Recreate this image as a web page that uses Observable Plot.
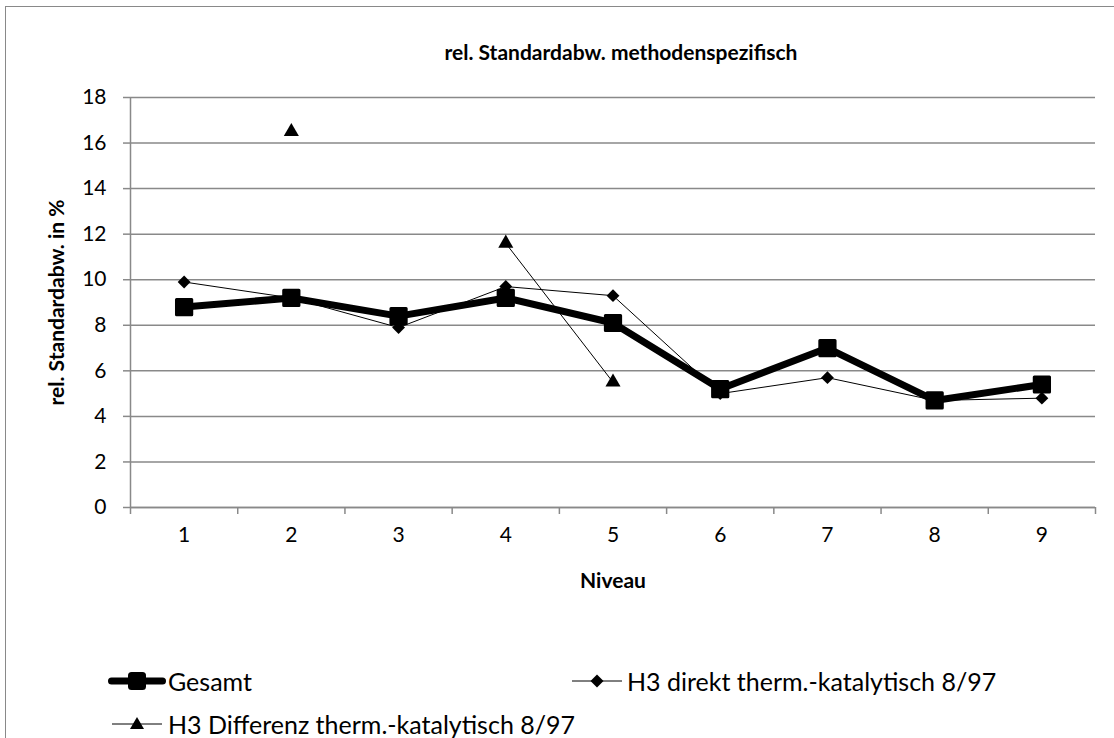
<!DOCTYPE html>
<html>
<head>
<meta charset="utf-8">
<script src="https://cdn.jsdelivr.net/npm/d3@7"></script>
<script src="https://cdn.jsdelivr.net/npm/@observablehq/plot@0.6"></script>
<style>
  html, body { margin: 0; padding: 0; background: #fff; overflow: hidden; }
  body { width: 1114px; height: 738px; position: relative; font-family: Lato, "Open Sans", sans-serif; color: #000; }
  #frame { position: absolute; left: 5px; top: 6px; width: 1200px; height: 800px; border: 1.5px solid #898989; box-sizing: border-box; }
  #title { position: absolute; left: 0; width: 1242px; top: 38px; line-height: 28px; text-align: center; font-weight: bold; font-size: 21px; }
  #chart { position: absolute; left: 0; top: 70px; }
  .sw { position: absolute; display: block; }
  .lt { position: absolute; font-size: 25px; line-height: 30px; white-space: nowrap; }
</style>
</head>
<body>
<div id="frame"></div>
<div id="title">rel. Standardabw. methodenspezifisch</div>
<div id="chart"></div>
<div id="legend"></div>
<script>
const niveaus = [1, 2, 3, 4, 5, 6, 7, 8, 9];
const gesamt = [8.8, 9.2, 8.4, 9.2, 8.1, 5.2, 7.0, 4.7, 5.4];
const direkt = [9.9, 9.2, 7.9, 9.7, 9.3, 5.0, 5.7, 4.7, 4.8];
const differenz = [null, 16.5, null, 11.6, 5.5, null, null, null, null];
const yTicks = [0, 2, 4, 6, 8, 10, 12, 14, 16, 18];
const seriesNames = ["Gesamt", "H3 direkt therm.-katalytisch 8/97", "H3 Differenz therm.-katalytisch 8/97"];

const toRows = vals => niveaus.map((n, i) => ({x: n, y: vals[i] == null ? NaN : vals[i]}));
const rowsG = toRows(gesamt);
const rowsD = toRows(direkt);
const rowsF = toRows(differenz);
const boundaries = [niveaus[0] - 0.5, ...niveaus.map(n => n + 0.5)];
const grid = "#898989";

const plot = Plot.plot({
  width: 1114,
  height: 540,
  marginLeft: 130,
  marginRight: 19,
  marginTop: 27,
  marginBottom: 103,
  style: {fontFamily: "Lato, 'Open Sans', sans-serif", fontSize: "21px", color: "#000", background: "transparent"},
  x: {type: "linear", domain: [0.5, 9.5]},
  y: {domain: [0, 18]},
  marks: [
    Plot.gridY(yTicks, {stroke: grid, strokeOpacity: 1, strokeWidth: 1.5}),
    Plot.ruleX([boundaries[0]], {stroke: grid, strokeWidth: 1.5}),
    Plot.ruleY([0], {stroke: grid, strokeWidth: 1.5}),
    Plot.axisY(yTicks, {tickSize: 7, tickPadding: 17, stroke: grid, strokeWidth: 1.5, fill: "#000", label: null, fontSize: 21}),
    Plot.axisX(boundaries, {tickSize: 7, tickFormat: () => "", stroke: grid, strokeWidth: 1.5, label: null}),
    Plot.axisX(niveaus, {tickSize: 0, tickPadding: 20, fill: "#000", label: null, fontSize: 21}),
    Plot.text(["Niveau"], {frameAnchor: "bottom", dy: 80, fontWeight: "bold", fontSize: 21, fill: "#000"}),
    Plot.text(["rel. Standardabw. in %"], {frameAnchor: "left", textAnchor: "middle", dx: -73, rotate: -90, fontWeight: "bold", fontSize: 21, fill: "#000"}),
    // Gesamt
    Plot.line(rowsG, {x: "x", y: "y", stroke: "#000", strokeWidth: 7, strokeLinejoin: "round"}),
    Plot.dot(rowsG, {x: "x", y: "y", symbol: "square", r: 8.6, fill: "#000", stroke: "#000", strokeWidth: 3, strokeLinejoin: "round"}),
    // direkt
    Plot.line(rowsD, {x: "x", y: "y", stroke: "#000", strokeWidth: 1}),
    Plot.dot(rowsD, {x: "x", y: "y", symbol: "diamond2", r: 5.8, fill: "#000", stroke: "none"}),
    // Differenz
    Plot.line(rowsF, {x: "x", y: "y", stroke: "#000", strokeWidth: 1}),
    Plot.dot(rowsF, {x: "x", y: "y", symbol: "triangle", r: 5.6, fill: "#000", stroke: "none"})
  ]
});
document.getElementById("chart").appendChild(plot);

// Legend
const legend = document.getElementById("legend");
const items = [
  {name: seriesNames[0], x1: 108, x2: 166, cx: 137, tx: 168, cy: 681, sym: "square", lw: 7},
  {name: seriesNames[1], x1: 572, x2: 622, cx: 597, tx: 627, cy: 681, sym: "diamond", lw: 1},
  {name: seriesNames[2], x1: 112, x2: 162, cx: 137, tx: 168, cy: 724, sym: "triangle", lw: 1}
];
items.forEach(it => {
  const h = 30, c = h / 2;
  const w = it.x2 - it.x1, m = it.cx - it.x1;
  let symbol = "";
  if (it.sym === "square") symbol = `<rect x="${m - 9}" y="${c - 9}" width="18" height="18" rx="3.5" fill="#000"/>`;
  if (it.sym === "diamond") symbol = `<path d="M${m},${c - 6.5}L${m + 6.5},${c}L${m},${c + 6.5}L${m - 6.5},${c}Z" fill="#000"/>`;
  if (it.sym === "triangle") symbol = `<path d="M${m},${c - 7}L${m + 7},${c + 5}L${m - 7},${c + 5}Z" fill="#000"/>`;
  const inset = it.lw > 2 ? 3.5 : 0;
  const sw = document.createElementNS("http://www.w3.org/2000/svg", "svg");
  sw.setAttribute("class", "sw");
  sw.setAttribute("width", w);
  sw.setAttribute("height", h);
  sw.style.left = it.x1 + "px";
  sw.style.top = (it.cy - c) + "px";
  sw.innerHTML = `<line x1="${inset}" x2="${w - inset}" y1="${c}" y2="${c}" stroke="#000" stroke-width="${it.lw}" stroke-linecap="round"/>${symbol}`;
  legend.appendChild(sw);
  const t = document.createElement("div");
  t.className = "lt";
  t.style.left = it.tx + "px";
  t.style.top = (it.cy - 15) + "px";
  t.textContent = it.name;
  legend.appendChild(t);
});
</script>
</body>
</html>
